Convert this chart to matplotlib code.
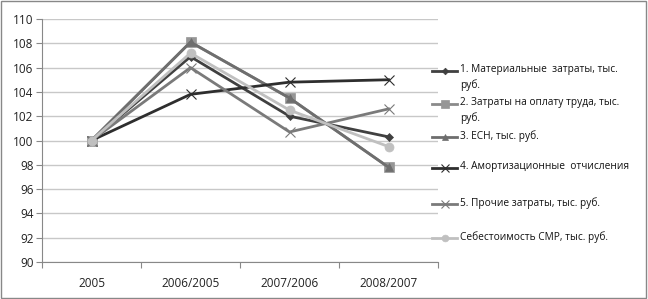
import matplotlib
matplotlib.use("Agg")
import matplotlib.pyplot as plt
from matplotlib.patches import Rectangle
from matplotlib.lines import Line2D

categories = ["2005", "2006/2005", "2007/2006", "2008/2007"]
s1 = [100, 106.9, 102.0, 100.3]
s2 = [100, 108.1, 103.5, 97.8]
s3 = [100, 108.1, 103.5, 97.8]
s4 = [100, 103.8, 104.8, 105.0]
s5 = [100, 106.0, 100.7, 102.6]
s6 = [100, 107.2, 102.5, 99.5]
labels = ["1. Материальные  затраты, тыс.\nруб.",
          "2. Затраты на оплату труда, тыс.\nруб.",
          "3. ЕСН, тыс. руб.",
          "4. Амортизационные  отчисления",
          "5. Прочие затраты, тыс. руб.",
          "Себестоимость СМР, тыс. руб."]
yticks = list(range(90, 111, 2))

plt.rcParams['font.family'] = ['Open Sans', 'DejaVu Sans']

W, H = 648, 299
fig = plt.figure(figsize=(6.48, 2.99), dpi=100)
ax = fig.add_axes([42/W, 1-262/H, (438-42)/W, (262-19)/H])

x = list(range(len(categories)))
styles = [
    (s1, "#404040", "D", 4.5, "#404040"),
    (s2, "#8a8a8a", "s", 7, "#969696"),
    (s3, "#6e6e6e", "^", 6, "#6e6e6e"),
    (s4, "#2e2e2e", "x", 7, "#2e2e2e"),
    (s5, "#7a7a7a", "x", 7, "#7a7a7a"),
    (s6, "#c0c0c0", "o", 6.5, "#c0c0c0"),
]
for i, (data, c, m, ms, mc) in enumerate(styles):
    ax.plot(x, data, color=c, lw=2, marker=m, markersize=ms,
            markerfacecolor=mc, markeredgecolor=mc,
            markeredgewidth=0.8 if m == "x" else 0.5, zorder=3 + i * 0.1)

ax.set_xlim(-0.5, 3.5)
ax.set_ylim(90, 110)
ax.set_yticks(yticks)
ax.set_xticks([-0.5, 0.5, 1.5, 2.5, 3.5], minor=False)
ax.set_xticklabels([])
ax.set_xticks(x, minor=True)
ax.set_xticklabels(categories, minor=True)
ax.tick_params(axis='x', which='minor', length=0, pad=11, labelsize=8.5, colors="#222222")
ax.tick_params(axis='x', which='major', length=4, color="#888888", direction='out')
ax.tick_params(axis='y', length=4, color="#888888", labelsize=8.5, colors="#222222", pad=2)
ax.grid(axis='y', color="#c8c8c8", lw=1)
ax.set_axisbelow(True)
for sp in ["top", "right"]:
    ax.spines[sp].set_visible(False)
ax.spines["left"].set_color("#888888")
ax.spines["bottom"].set_color("#888888")

# legend, laid out manually like the source
leg_y = [71, 104, 137, 168, 204, 238]
for (data, c, m, ms, mc), lab, yy in zip(styles, labels, leg_y):
    yf = 1 - yy / H
    fig.add_artist(Line2D([432/W, 457/W], [yf, yf], color=c, lw=2,
                          transform=fig.transFigure))
    fig.add_artist(Line2D([444.5/W], [yf], marker=m, markersize=ms * 0.75,
                          color=mc, markeredgecolor=mc,
                          markeredgewidth=0.8 if m == "x" else 0.5,
                          transform=fig.transFigure))
    fig.text(460/W, 1 - (yy - 7) / H, lab, ha="left", va="top", fontsize=7.3,
             color="#111111", linespacing=1.45)

fig.patches.append(Rectangle((0.002, 0.003), 0.995, 0.993, transform=fig.transFigure,
                             fill=False, edgecolor="#888888", lw=1))

fig.savefig("out.png", dpi=100)
